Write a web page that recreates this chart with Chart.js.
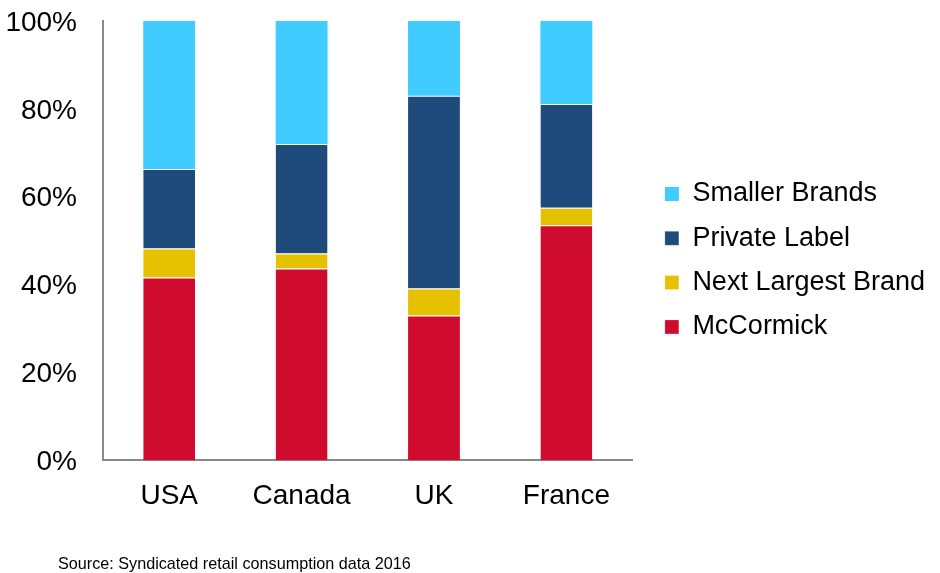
<!DOCTYPE html>
<html>
<head>
<meta charset="utf-8">
<script src="https://cdn.jsdelivr.net/npm/chart.js@4/dist/chart.umd.min.js"></script>
<style>
  body { margin: 0; background: #fff; }
  #wrap { position: relative; width: 940px; height: 573px; }
  #source { position: absolute; left: 58px; top: 554px; font: 16.2px "Liberation Sans", Arial, sans-serif; color: #000; white-space: nowrap; }
</style>
</head>
<body>
<div id="wrap">
  <canvas id="chart" width="940" height="573"></canvas>
  <div id="source">Source: Syndicated retail consumption data 2016</div>
</div>
<script>
// Data (share in %)
var paises = ["USA", "Canada", "UK", "France"];
var mccormick = [41.6, 43.7, 33.0, 53.5];
var nextLargest = [6.6, 3.4, 6.1, 4.0];
var privateLabel = [18.1, 24.9, 43.9, 23.6];
var smallerBrands = [33.7, 28.0, 17.0, 18.9];
var yTicks = [0, 20, 40, 60, 80, 100];

Chart.defaults.font.family = '"Liberation Sans", Arial, sans-serif';
Chart.defaults.color = "#000";

function serie(label, data, color, top) {
    return {
        label: label,
        data: data,
        backgroundColor: color,
        borderColor: "#fff",
        borderWidth: top ? 0 : {top: 1, left: 0, right: 0, bottom: 0},
        borderSkipped: false,
        barPercentage: 0.392,
        categoryPercentage: 1
    };
}

var ctx = document.getElementById("chart").getContext("2d");
var chart = new Chart(ctx, {
    type: "bar",
    data: {
        labels: paises,
        datasets: [
            serie("McCormick", mccormick, "#D00C2E"),
            serie("Next Largest Brand", nextLargest, "#E5C100"),
            serie("Private Label", privateLabel, "#1F4A7C"),
            serie("Smaller Brands", smallerBrands, "#40CCFF", true)
        ]
    },
    options: {
        responsive: false,
        animation: false,
        layout: {padding: {left: 5, top: 21, right: 5, bottom: 41}},
        plugins: {
            tooltip: {enabled: false},
            legend: {
                position: "right",
                fullSize: false,
                reverse: true,
                maxWidth: 300,
                title: {display: true, text: " ", font: {size: 10}, padding: {top: 27.5, bottom: 0}},
                labels: {
                    boxWidth: 14,
                    boxHeight: 14,
                    padding: 17.3,
                    font: {size: 27},
                    color: "#000"
                }
            }
        },
        scales: {
            x: {
                stacked: true,
                grid: {display: false, drawTicks: false},
                border: {display: true, color: "#898989", width: 2},
                ticks: {font: {size: 28}, padding: 19}
            },
            y: {
                stacked: true,
                min: 0,
                max: 100,
                grid: {display: false, drawTicks: false},
                border: {display: true, color: "#898989", width: 2},
                afterBuildTicks: function (axis) {
                    axis.ticks = yTicks.map(function (v) { return {value: v}; });
                },
                // labels sit 26px from the axis line, no extra room around them
                afterFit: function (axis) {
                    axis.width = 98;
                    axis.paddingTop = 0;
                    axis.paddingBottom = 0;
                },
                ticks: {
                    font: {size: 28},
                    padding: 26,
                    labelOffset: 2,
                    callback: function (v) { return v + "%"; }
                }
            },
            // empty axis used only as a gap between the plot and the legend
            gap: {
                type: "linear",
                position: "right",
                display: true,
                grid: {display: false, drawTicks: true, tickLength: 15},
                border: {display: false},
                ticks: {display: false}
            }
        }
    }
});
</script>
</body>
</html>
